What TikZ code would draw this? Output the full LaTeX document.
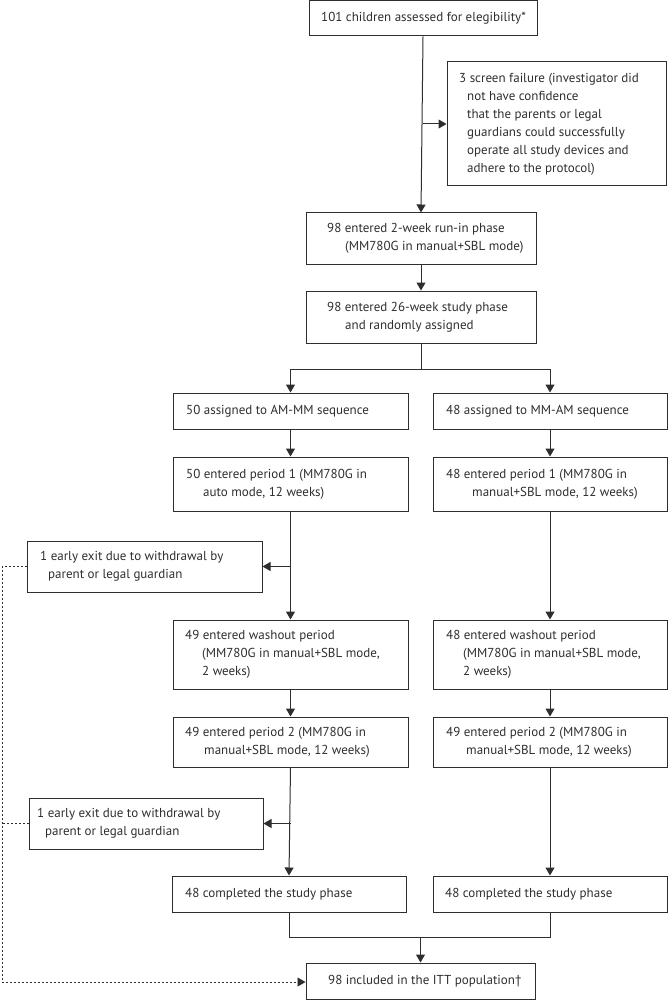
\documentclass[tikz,border=0pt]{standalone}
\usepackage{fontspec}
\setmainfont{PT Sans}
\usetikzlibrary{arrows.meta,fit}
\definecolor{ink}{HTML}{2E2E2E}
\tikzset{
  box/.style={draw=ink, line width=1pt, inner sep=0pt},
  txt/.style={anchor=west, inner sep=0pt, align=left, text=ink, font=\fontsize{13}{18}\selectfont},
  conn/.style={draw=ink, line width=1pt},
  arr/.style={conn, -{Triangle[length=8pt,width=9pt]}},
  dsh/.style={draw=ink, line width=0.9pt, dash pattern=on 2pt off 2pt},
  dsharr/.style={dsh, -{Triangle[length=8pt,width=9pt]}}
}
% name, x1, y1, x2, y2, text x, text
\newcommand\mybox[7]{%
  \node[box, fit={(#2,#3)(#4,#5)}] (#1) {};
  \node[txt] (#1t) at (#6,{(#3+#5)/2}) {#7};
}
\begin{document}
\begin{tikzpicture}[x=1pt,y=-1pt]
\useasboundingbox (0,0) rectangle (668,1000);
\mybox{top}{309}{1}{537}{36}{321}{101 children assessed for elegibility*}
\mybox{sf}{447}{62}{666}{186}{459}{3 screen failure (investigator did\\\hspace*{8pt}not have confidence\\\hspace*{8pt}that the parents or legal\\\hspace*{8pt}guardians could successfully\\\hspace*{8pt}operate all study devices and\\\hspace*{8pt}adhere to the protocol)}
\mybox{runin}{306}{213}{536}{264}{327}{98 entered 2-week run-in phase\\\hspace*{18pt}(MM780G in manual+SBL mode)}
\mybox{study}{306}{291}{536}{343}{327}{98 entered 26-week study phase\\\hspace*{18pt}and randomly assigned}
\mybox{amm}{173}{393}{408}{429}{186}{50 assigned to AM-MM sequence}
\mybox{mma}{433}{393}{667}{429}{446}{48 assigned to MM-AM sequence}
\mybox{pal}{173}{457}{408}{511}{186}{50 entered period 1 (MM780G in\\\hspace*{17pt}auto mode, 12 weeks)}
\mybox{par}{433}{457}{667}{511}{446}{48 entered period 1 (MM780G in\\\hspace*{26pt}manual+SBL mode, 12 weeks)}
\mybox{wa}{27}{541}{262}{592}{40}{1 early exit due to withdrawal by\\\hspace*{8pt}parent or legal guardian}
\mybox{wol}{173}{620}{408}{689}{185}{49 entered washout period\\\hspace*{17pt}(MM780G in manual+SBL mode,\\\hspace*{17pt}2 weeks)}
\mybox{wor}{433}{620}{667}{689}{446}{48 entered washout period\\\hspace*{17pt}(MM780G in manual+SBL mode,\\\hspace*{17pt}2 weeks)}
\mybox{pbl}{173}{717}{408}{767}{185}{49 entered period 2 (MM780G in\\\hspace*{19pt}manual+SBL mode, 12 weeks)}
\mybox{pbr}{433}{717}{667}{767}{446}{49 entered period 2 (MM780G in\\\hspace*{20pt}manual+SBL mode, 12 weeks)}
\mybox{wb}{29}{798}{263}{849}{37}{1 early exit due to withdrawal by\\\hspace*{8pt}parent or legal guardian}
\mybox{cl}{172}{876}{406}{912}{185}{48 completed the study phase}
\mybox{cr}{433}{876}{667}{912}{445}{48 completed the study phase}
\mybox{itt}{306}{963}{535}{999}{328}{98 included in the ITT population\textdagger}
% coordinates
\coordinate (s1) at (top.south |- sf.west);
\coordinate (br) at (study.south |- 0,369);
\coordinate (brl) at (amm.north |- 0,369);
\coordinate (brr) at (mma.north |- 0,369);
\coordinate (ja) at (pal.south |- wa.east);
\coordinate (jb) at (pbl.south |- wb.east);
\coordinate (ml) at (cl.south |- 0,937);
\coordinate (mr) at (cr.south |- 0,937);
\coordinate (mc) at (itt.north |- 0,937);
\coordinate (da) at (2,0 |- wa.west);
\coordinate (db) at (2,0 |- wb.west);
\coordinate (dc) at (2,0 |- 0,982);
% connectors
\draw[arr] (top.south) -- (runin.north);
\draw[arr] (s1) -- (sf.west);
\draw[arr] (runin.south) -- (study.north);
\draw[conn] (study.south) -- (br);
\draw[conn] (brl) -- (brr);
\draw[arr] (brl) -- (amm.north);
\draw[arr] (brr) -- (mma.north);
\draw[arr] (amm.south) -- (pal.north);
\draw[arr] (mma.south) -- (par.north);
\draw[arr] (pal.south) -- (wol.north);
\draw[arr] (ja) -- (wa.east);
\draw[arr] (par.south) -- (wor.north);
\draw[arr] (wol.south) -- (pbl.north);
\draw[arr] (wor.south) -- (pbr.north);
\draw[arr] (pbl.south) -- (cl.north);
\draw[arr] (jb) -- (wb.east);
\draw[arr] (pbr.south) -- (cr.north);
\draw[conn] (cl.south) -- (ml) -- (mr) -- (cr.south);
\draw[arr] (mc) -- (itt.north);
\draw[dsh] (wa.west) -- (da) -- (dc);
\draw[dsh] (wb.west) -- (db);
\draw[dsharr] (dc) -- (itt.west |- dc);
\end{tikzpicture}
\end{document}
